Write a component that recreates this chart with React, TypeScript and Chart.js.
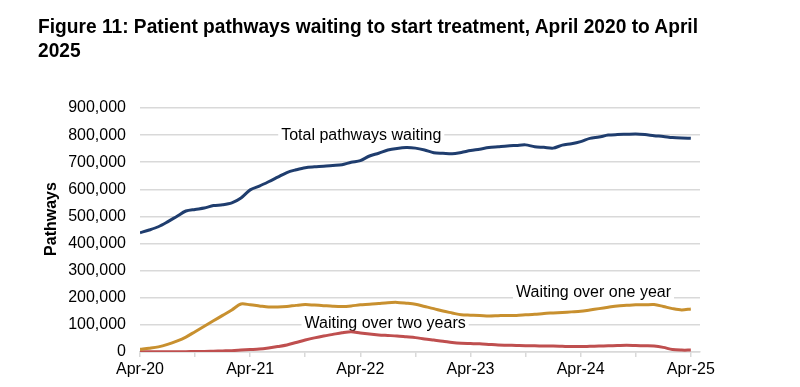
import React, { useEffect, useRef } from "react";
import { Chart, registerables } from "chart.js";

Chart.register(...registerables);

const TITLE_LINES = [
  "Figure 11: Patient pathways waiting to start treatment, April 2020 to April",
  "2025",
];

const MONTHS = [
  "Apr-20", "May-20", "Jun-20", "Jul-20", "Aug-20", "Sep-20", "Oct-20", "Nov-20", "Dec-20", "Jan-21", "Feb-21", "Mar-21",
  "Apr-21", "May-21", "Jun-21", "Jul-21", "Aug-21", "Sep-21", "Oct-21", "Nov-21", "Dec-21", "Jan-22", "Feb-22", "Mar-22",
  "Apr-22", "May-22", "Jun-22", "Jul-22", "Aug-22", "Sep-22", "Oct-22", "Nov-22", "Dec-22", "Jan-23", "Feb-23", "Mar-23",
  "Apr-23", "May-23", "Jun-23", "Jul-23", "Aug-23", "Sep-23", "Oct-23", "Nov-23", "Dec-23", "Jan-24", "Feb-24", "Mar-24",
  "Apr-24", "May-24", "Jun-24", "Jul-24", "Aug-24", "Sep-24", "Oct-24", "Nov-24", "Dec-24", "Jan-25", "Feb-25", "Mar-25",
  "Apr-25",
];

// values in thousands of pathways
const TOTAL_WAITING = [
  440, 450, 462, 480, 500, 520, 526, 531, 540, 543, 550, 568,
  598, 612, 628, 645, 662, 672, 680, 683, 685, 688, 691, 700,
  706, 723, 733, 745, 751, 754, 752, 745, 735, 733, 731, 736,
  743, 748, 754, 757, 760, 762, 764, 757, 755, 752, 763, 768,
  776, 788, 793, 800, 802, 803, 804, 802, 798, 795, 791, 789,
  788,
];

const OVER_ONE_YEAR = [
  10, 14, 19, 28, 40, 55, 75, 95, 115, 135, 155, 177,
  174, 170, 166, 166, 168, 172, 175, 173, 171, 169, 168, 170,
  174, 176, 179, 182, 183, 180, 176, 168, 160, 151, 144, 137,
  136, 135, 133, 134, 135, 135, 137, 139, 142, 144, 146, 148,
  150, 155, 160, 165, 170, 172, 174, 174, 175, 168, 160, 155,
  159,
];

const OVER_TWO_YEARS = [
  1, 1, 1, 1, 1, 1, 2, 2, 3, 4, 5, 7,
  9, 11, 15, 20, 26, 35, 44, 52, 59, 65, 71, 75,
  70, 66, 63, 61, 59, 56, 53, 48, 44, 40, 35, 32,
  31, 30, 28, 26, 25, 24, 23, 23, 22, 22, 21, 20,
  20, 21, 22, 23, 24, 25, 24, 23, 22, 17, 9, 7,
  7,
];

const Y_TICKS = [0, 100000, 200000, 300000, 400000, 500000, 600000, 700000, 800000, 900000];

const ANNOTATIONS = [
  { text: "Total pathways waiting", month: 24.1, value: 800000 },
  { text: "Waiting over two years", month: 26.7, value: 103000 },
  { text: "Waiting over one year", month: 49.4, value: 218000 },
];

const FONT = '"Liberation Sans", Arial, Helvetica, sans-serif';

const labelPlugin = {
  id: "annotLabels",
  beforeDatasetsDraw(chart: any) {
    const { ctx, scales } = chart;
    const x = scales.x;
    const y = scales.y;
    ctx.save();
    ctx.font = `16px ${FONT}`;
    ctx.textAlign = "center";
    ctx.textBaseline = "middle";
    for (const a of ANNOTATIONS) {
      const px = x.getPixelForValue(a.month);
      const py = y.getPixelForValue(a.value);
      const w = ctx.measureText(a.text).width;
      ctx.fillStyle = "#ffffff";
      ctx.fillRect(px - w / 2 - 3, py - 9, w + 6, 18);
      ctx.fillStyle = "#000000";
      ctx.fillText(a.text, px, py);
    }
    ctx.restore();
  },
  afterDraw(chart: any) {
    const { ctx } = chart;
    ctx.save();
    ctx.font = `bold 16px ${FONT}`;
    ctx.fillStyle = "#000000";
    ctx.textAlign = "center";
    ctx.textBaseline = "middle";
    ctx.translate(52, 219);
    ctx.rotate(-Math.PI / 2);
    ctx.fillText("Pathways", 0, 0);
    ctx.restore();
  },
};

export default function App() {
  const canvasRef = useRef<HTMLCanvasElement | null>(null);

  useEffect(() => {
    if (!canvasRef.current) return;
    const toPoints = (arr: number[]) => arr.map((v, i) => ({ x: i, y: v * 1000 }));
    const chart = new Chart(canvasRef.current, {
      type: "line",
      data: {
        datasets: [
          {
            label: "Total pathways waiting",
            data: toPoints(TOTAL_WAITING),
            borderColor: "#1f3d6e",
            borderWidth: 3,
            pointRadius: 0,
            tension: 0.3,
          },
          {
            label: "Waiting over one year",
            data: toPoints(OVER_ONE_YEAR),
            borderColor: "#c8902f",
            borderWidth: 3,
            pointRadius: 0,
            tension: 0.3,
          },
          {
            label: "Waiting over two years",
            data: toPoints(OVER_TWO_YEARS),
            borderColor: "#bf4f4f",
            borderWidth: 3,
            pointRadius: 0,
            tension: 0.3,
          },
        ],
      },
      options: {
        animation: false,
        responsive: false,
        maintainAspectRatio: false,
        layout: { padding: { left: 0, right: 100, top: 108, bottom: 0 } },
        plugins: {
          legend: { display: false },
          tooltip: { enabled: false },
          title: { display: false },
        },
        scales: {
          x: {
            type: "linear",
            min: 0,
            max: MONTHS.length,
            afterBuildTicks: (scale: any) => {
              const t: any[] = [];
              for (let i = 0; i < MONTHS.length; i += 6) t.push({ value: i });
              scale.ticks = t;
            },
            afterFit: (scale: any) => {
              scale.height = 35;
            },
            ticks: {
              autoSkip: false,
              maxRotation: 0,
              minRotation: 0,
              padding: 3,
              color: "#000000",
              font: { family: FONT, size: 16 },
              callback: (value: any) => (Number(value) % 12 === 0 ? MONTHS[Number(value)] : ""),
            },
            grid: {
              drawOnChartArea: false,
              drawTicks: true,
              tickLength: 5,
              tickColor: "#d9d9d9",
              lineWidth: 1.5,
            },
            border: { display: true, color: "#d9d9d9", width: 1.5 },
          },
          y: {
            min: 0,
            max: 900000,
            afterBuildTicks: (scale: any) => {
              scale.ticks = Y_TICKS.map((v) => ({ value: v }));
            },
            afterFit: (scale: any) => {
              scale.width = 140;
            },
            ticks: {
              padding: 14,
              color: "#000000",
              font: { family: FONT, size: 16 },
              callback: (value: any) => Number(value).toLocaleString("en-US"),
            },
            grid: {
              drawTicks: false,
              color: "#d9d9d9",
              lineWidth: 1.5,
            },
            border: { display: false },
          },
        },
      },
      plugins: [labelPlugin],
    });
    return () => chart.destroy();
  }, []);

  return (
    <div
      style={{
        position: "fixed",
        left: 0,
        top: 0,
        width: 800,
        height: 387,
        background: "#ffffff",
        overflow: "hidden",
      }}
    >
      <canvas
        ref={canvasRef}
        width={800}
        height={387}
        style={{ position: "absolute", left: 0, top: 0, width: 800, height: 387 }}
      />
      <div
        style={{
          position: "absolute",
          left: 38,
          top: 14,
          fontFamily: FONT,
          fontWeight: "bold",
          fontSize: 20.5,
          lineHeight: "23.5px",
          color: "#000000",
          whiteSpace: "nowrap",
          transform: "scaleX(0.935)",
          transformOrigin: "left top",
        }}
      >
        {TITLE_LINES.map((l, i) => (
          <div key={i}>{l}</div>
        ))}
      </div>
    </div>
  );
}
